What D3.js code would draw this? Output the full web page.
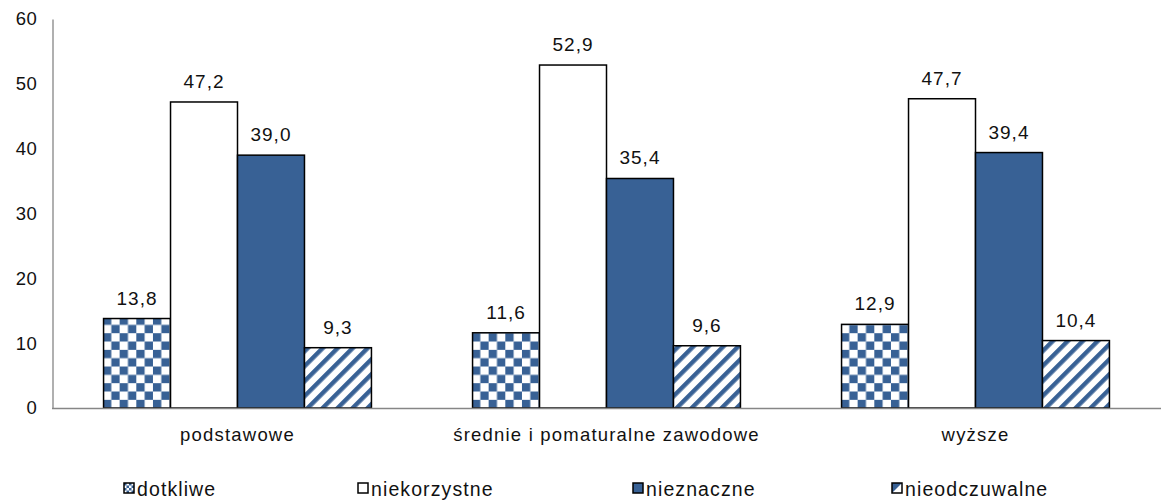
<!DOCTYPE html>
<html>
<head>
<meta charset="utf-8">
<script src="https://cdn.jsdelivr.net/npm/d3@7/dist/d3.min.js"></script>
<style>
  html, body { margin: 0; padding: 0; background: #fff; }
  svg text { font-family: "Liberation Sans", Arial, sans-serif; fill: #111; }
</style>
</head>
<body>
<svg id="chart" width="1161" height="503"></svg>
<script>
// Education levels on the x axis
const categories = ["podstawowe", "średnie i pomaturalne zawodowe", "wyższe"];
// Series names (legend order)
const seriesNames = ["dotkliwe", "niekorzystne", "nieznaczne", "nieodczuwalne"];
// Percentages per series, one value per education level
const dotkliwe = [13.8, 11.6, 12.9];
const niekorzystne = [47.2, 52.9, 47.7];
const nieznaczne = [39.0, 35.4, 39.4];
const nieodczuwalne = [9.3, 9.6, 10.4];
const yTicks = [0, 10, 20, 30, 40, 50, 60];

const seriesValues = [dotkliwe, niekorzystne, nieznaczne, nieodczuwalne];
const blue = "#386195";

const svg = d3.select("#chart");
const margin = { left: 53, right: 1, top: 19, bottom: 95 };
const W = 1161, H = 503;

// patterns
const defs = svg.append("defs");
const cell = 8.33;
const checker = defs.append("pattern")
  .attr("id", "checker").attr("patternUnits", "userSpaceOnUse")
  .attr("width", cell * 2).attr("height", cell * 2);
checker.append("rect").attr("width", cell * 2).attr("height", cell * 2).attr("fill", "#fff");
checker.append("rect").attr("width", cell).attr("height", cell).attr("fill", blue);
checker.append("rect").attr("x", cell).attr("y", cell).attr("width", cell).attr("height", cell).attr("fill", blue);

const hp = 10.6;
const hatch = defs.append("pattern")
  .attr("id", "hatch").attr("patternUnits", "userSpaceOnUse")
  .attr("width", hp).attr("height", hp)
  .attr("patternTransform", "rotate(45)");
hatch.append("rect").attr("width", hp).attr("height", hp).attr("fill", "#fff");
hatch.append("rect").attr("width", hp * 0.42).attr("height", hp).attr("fill", blue);

// small legend version of the checker
const lcell = 2.5;
const lchecker = defs.append("pattern")
  .attr("id", "lchecker").attr("patternUnits", "userSpaceOnUse")
  .attr("width", lcell * 2).attr("height", lcell * 2);
lchecker.append("rect").attr("width", lcell * 2).attr("height", lcell * 2).attr("fill", "#fff");
lchecker.append("rect").attr("width", lcell).attr("height", lcell).attr("fill", blue);
lchecker.append("rect").attr("x", lcell).attr("y", lcell).attr("width", lcell).attr("height", lcell).attr("fill", blue);

const fills = ["url(#checker)", "#ffffff", blue, "url(#hatch)"];

const y = d3.scaleLinear().domain([0, 60]).range([H - margin.bottom, margin.top]);
const x0 = d3.scaleBand().domain(categories).range([margin.left, W - margin.right]).padding(0);
const bw = x0.bandwidth();
const x1 = d3.scaleBand().domain(seriesNames).range([bw * 0.137, bw * 0.863]).padding(0);

// y axis line and labels
const yAxis = d3.axisLeft(y).tickValues(yTicks).tickSize(0).tickPadding(15).tickFormat(d3.format("d"));
const gy = svg.append("g").attr("transform", `translate(${margin.left - 0.5},0)`).call(yAxis);
gy.select(".domain").attr("stroke", "#868686").attr("stroke-width", 1.3);
gy.selectAll("text").attr("font-size", 18.5).attr("letter-spacing", 0.6)
  .attr("font-family", "Liberation Sans, Arial, sans-serif").attr("fill", "#111");

// bars
const groups = svg.append("g").selectAll("g").data(categories).join("g")
  .attr("transform", d => `translate(${x0(d)},0)`);

groups.each(function (cat, ci) {
  const g = d3.select(this);
  seriesNames.forEach((s, si) => {
    const v = seriesValues[si][ci];
    g.append("rect")
      .attr("x", x1(s)).attr("y", y(v))
      .attr("width", x1.bandwidth()).attr("height", y(0) - y(v))
      .attr("fill", fills[si]).attr("stroke", "#000").attr("stroke-width", 1.5);
    g.append("text")
      .attr("x", x1(s) + x1.bandwidth() / 2).attr("y", y(v) - 14)
      .attr("text-anchor", "middle").attr("font-size", 19).attr("letter-spacing", 1)
      .text(d3.format(".1f")(v).replace(".", ","));
  });
});

// x axis baseline and category labels
const xAxis = d3.axisBottom(x0).tickSize(0).tickPadding(20);
const gx = svg.append("g").attr("transform", `translate(0,${y(0)})`).call(xAxis);
gx.select(".domain").attr("stroke", "#868686").attr("stroke-width", 1.3)
  .attr("d", `M${margin.left - 1},0.5H${W}`);
gx.selectAll("text").attr("font-size", 18.5).attr("letter-spacing", 1.2)
  .attr("font-family", "Liberation Sans, Arial, sans-serif").attr("fill", "#111");

// legend
const legendX = [124, 358, 633, 892];
const legendFills = ["url(#lchecker)", "#ffffff", blue, null];
const lg = svg.append("g").attr("transform", "translate(0,483)");
seriesNames.forEach((s, i) => {
  const item = lg.append("g").attr("transform", `translate(${legendX[i]},0)`);
  if (i === 3) {
    item.append("rect").attr("width", 10).attr("height", 10).attr("fill", "#fff");
    item.append("path").attr("d", "M0,0H10L0,10Z").attr("fill", blue);
    item.append("rect").attr("width", 10).attr("height", 10).attr("fill", "none")
      .attr("stroke", "#000").attr("stroke-width", 1.5);
  } else {
    item.append("rect").attr("width", 10).attr("height", 10)
      .attr("fill", legendFills[i]).attr("stroke", "#000").attr("stroke-width", 1.5);
  }
  item.append("text").attr("x", 13).attr("y", 13)
    .attr("font-size", 19.5).attr("letter-spacing", 1.1).text(s);
});
</script>
</body>
</html>
